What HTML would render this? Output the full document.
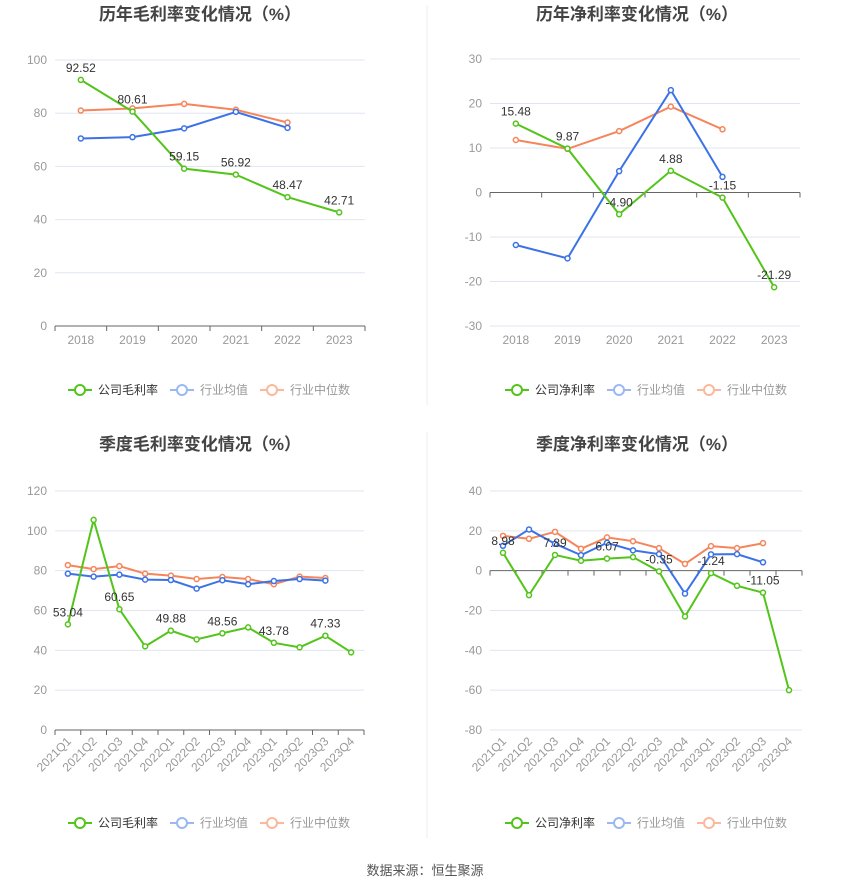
<!DOCTYPE html>
<html><head><meta charset="utf-8">
<style>
body{margin:0;background:#fff;width:850px;height:890px;overflow:hidden;font-family:"Liberation Sans","Noto Sans CJK SC",sans-serif;}
svg text{font-family:"Liberation Sans","Noto Sans CJK SC",sans-serif;}
</style></head>
<body>
<svg id="root" width="850" height="890">
<line x1="427" y1="5" x2="427" y2="405" stroke="#eee"/>
<line x1="427" y1="432" x2="427" y2="838" stroke="#eee"/>
<text x="425" y="875" text-anchor="middle" font-size="13" fill="#555">数据来源：恒生聚源</text>
</svg>
<script>
const years=["2018","2019","2020","2021","2022","2023"];
const quarters=["2021Q1","2021Q2","2021Q3","2021Q4","2022Q1","2022Q2","2022Q3","2022Q4","2023Q1","2023Q2","2023Q3","2023Q4"];
const c1Company=[92.52,80.61,59.15,56.92,48.47,42.71];
const c1Avg=[70.5,71,74.3,80.5,74.5];
const c1Med=[81,81.8,83.5,81.3,76.5];
const c1Ticks=[0,20,40,60,80,100];
const c2Company=[15.48,9.87,-4.90,4.88,-1.15,-21.29];
const c2Avg=[-11.8,-14.8,4.8,23,3.5];
const c2Med=[11.8,9.8,13.8,19.3,14.2];
const c2Ticks=[-30,-20,-10,0,10,20,30];
const c3Company=[53.04,105.5,60.65,42,49.88,45.5,48.56,51.5,43.78,41.5,47.33,39];
const c3Avg=[78.5,77,78,75.5,75.3,71,75.2,73.2,74.8,75.8,75];
const c3Med=[82.8,80.8,82.3,78.5,77.5,75.8,76.8,75.8,73.2,77,76.3];
const c3Ticks=[0,20,40,60,80,100,120];
const c4Company=[8.98,-12.3,7.89,5,6.07,6.8,-0.35,-23,-1.24,-7.6,-11.05,-60];
const c4Avg=[12.5,20.7,13.5,7.8,14,10.2,8.3,-11.5,8.2,8.3,4.2];
const c4Med=[17.5,16,19.5,11,16.7,14.8,11.3,3.4,12.3,11.3,13.8];
const c4Ticks=[-80,-60,-40,-20,0,20,40];

const NS="http://www.w3.org/2000/svg";
const root=document.getElementById('root');
function mk(tag,attrs,parent){const e=document.createElementNS(NS,tag);for(const k in attrs)e.setAttribute(k,attrs[k]);parent.appendChild(e);return e;}

function chart(o){
  const g=mk('g',{},root);
  
  
  const yMin=o.ticks[0],yMax=o.ticks[o.ticks.length-1];
  const ys=v=>o.y0-(v-yMin)/(yMax-yMin)*(o.y0-o.y1);
  const n=o.cats.length,step=(o.x1-o.x0)/n;
  const xs=i=>o.x0+step*(i+0.5);
  const t=mk('text',{x:o.tx,y:o.ty,'text-anchor':'middle','font-size':17,'font-weight':'bold',fill:'#444'},g);
  t.textContent=o.title;
  
  
  o.ticks.forEach(v=>{
    const y=ys(v);
    const l=mk('line',{x1:o.x0,x2:o.x1,y1:y,y2:y,stroke:v===0?'#666':'#e0e6f1'},g);
    
    
    const tx=mk('text',{x:o.x0-8,y:y+4,'text-anchor':'end','font-size':12,fill:'#999'},g);
    tx.textContent=v;
    
    
  });
  const zy=ys(Math.max(yMin,Math.min(0,yMax)));
  for(let i=0;i<=n;i++){mk('line',{x1:o.x0+step*i,x2:o.x0+step*i,y1:zy,y2:zy+5,stroke:'#666'},g);}
  o.cats.forEach((c,i)=>{
    let tx;
    if(o.rot){
      tx=mk('text',{x:xs(i)+4,y:o.y0+12,'text-anchor':'end','font-size':12,fill:'#999',transform:`rotate(-45 ${xs(i)+4} ${o.y0+12})`},g);
    }else{
      tx=mk('text',{x:xs(i),y:o.y0+18,'text-anchor':'middle','font-size':12,fill:'#999'},g);
    }
    tx.textContent=c;
    
    
  });
  const series=[[o.med,'#f5855a','industry-median'],[o.avg,'#3b72e6','industry-average'],[o.comp,'#52c41a','company']];
  series.forEach(([d,col,nm])=>{
    const p=mk('polyline',{points:d.map((v,i)=>xs(i)+','+ys(v)).join(' '),fill:'none',stroke:col,'stroke-width':2},g);
    
    
    d.forEach((v,i)=>{
      const c=mk('circle',{cx:xs(i),cy:ys(v),r:2.5,fill:'#fff',stroke:col,'stroke-width':1.5},g);
      
      
    });
  });
  o.comp.forEach((v,i)=>{
    if(o.rot && i%2===1)return;
    const tx=mk('text',{x:xs(i),y:ys(v)-8,'text-anchor':'middle','font-size':12,fill:'#333'},g);
    tx.textContent=v.toFixed(2);
    
    
  });
  const lg=mk('g',{},g);
  
  
  const items=[[o.compName,'#52c41a','#333'],['行业均值','#9bb8f2','#999'],['行业中位数','#fbb89d','#999']];
  let lx=o.lx;
  items.forEach(([txt,col,tc])=>{
    const ig=mk('g',{},lg);
    
    
    mk('line',{x1:lx,x2:lx+24,y1:o.ly,y2:o.ly,stroke:col,'stroke-width':2},ig);
    mk('circle',{cx:lx+12,cy:o.ly,r:5,fill:'#fff',stroke:col,'stroke-width':2},ig);
    const tx=mk('text',{x:lx+30,y:o.ly+4,'font-size':12,fill:tc},ig);
    tx.textContent=txt;
    lx+=30+txt.length*12+12;
  });
}
chart({name:'annual-gross-margin-chart',title:'历年毛利率变化情况（%）',tx:200,ty:20,x0:55,x1:365,y0:326,y1:60,cats:years,ticks:c1Ticks,comp:c1Company,avg:c1Avg,med:c1Med,compName:'公司毛利率',lx:68,ly:390});
chart({name:'annual-net-margin-chart',title:'历年净利率变化情况（%）',tx:637,ty:20,x0:490,x1:800,y0:326,y1:59,cats:years,ticks:c2Ticks,comp:c2Company,avg:c2Avg,med:c2Med,compName:'公司净利率',lx:505,ly:390});
chart({name:'quarterly-gross-margin-chart',title:'季度毛利率变化情况（%）',tx:200,ty:450,x0:55,x1:364,y0:730,y1:491,cats:quarters,ticks:c3Ticks,comp:c3Company,avg:c3Avg,med:c3Med,compName:'公司毛利率',lx:68,ly:823,rot:true});
chart({name:'quarterly-net-margin-chart',title:'季度净利率变化情况（%）',tx:637,ty:450,x0:490,x1:802,y0:730,y1:491,cats:quarters,ticks:c4Ticks,comp:c4Company,avg:c4Avg,med:c4Med,compName:'公司净利率',lx:505,ly:823,rot:true});
</script>
</body></html>
